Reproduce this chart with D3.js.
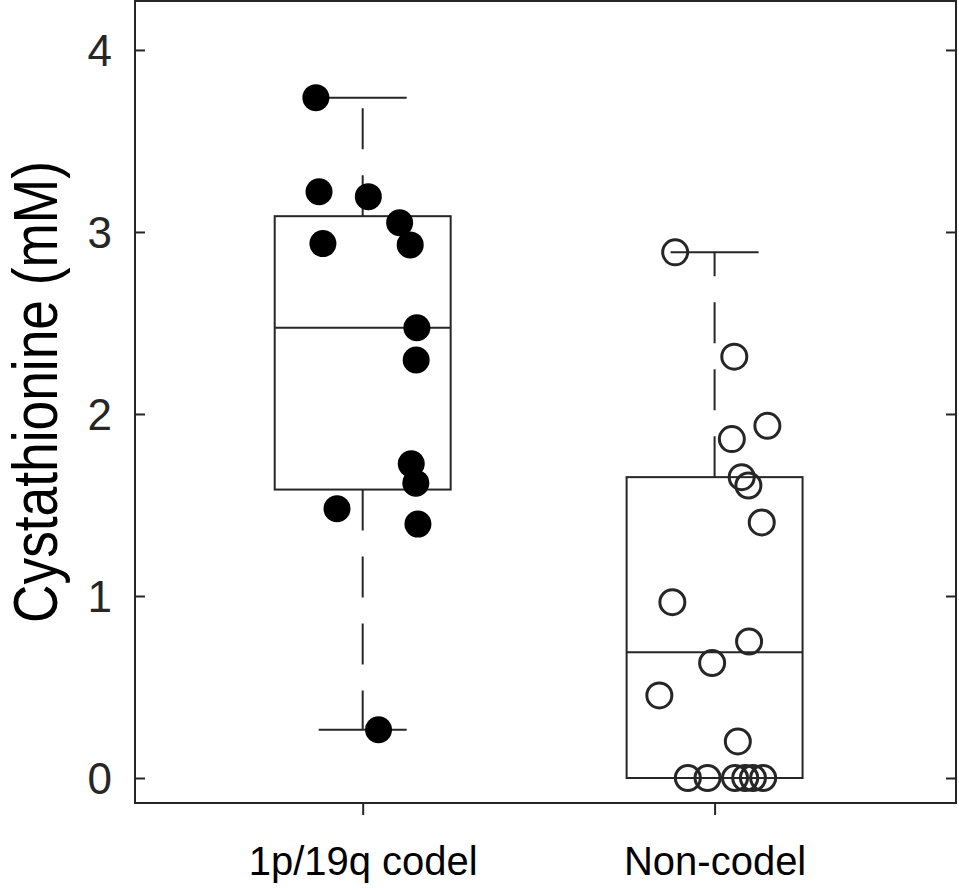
<!DOCTYPE html>
<html>
<head>
<meta charset="utf-8">
<script src="https://cdn.jsdelivr.net/npm/d3@7"></script>
<style>
  html, body { margin: 0; padding: 0; background: #fff; }
  svg { display: block; }
  text { font-family: "Liberation Sans", Arial, Helvetica, sans-serif; }
</style>
</head>
<body>
<svg id="chart" width="959" height="890"></svg>
<script>
// ---- data ----
const categories = ["1p/19q codel", "Non-codel"];
const codelValues = [3.738, 3.221, 3.194, 3.051, 2.936, 2.929, 2.474, 2.297, 1.726, 1.620, 1.479, 1.395, 0.265];
const codelJitter = [-0.133, -0.124, 0.016, 0.105, -0.113, 0.135, 0.154, 0.152, 0.138, 0.151, -0.073, 0.157, 0.045];
const noncodelValues = [2.888, 2.315, 1.935, 1.862, 1.653, 1.607, 1.404, 0.966, 0.750, 0.632, 0.454, 0.201, 0, 0, 0, 0, 0, 0];
const noncodelJitter = [-0.112, 0.056, 0.150, 0.049, 0.077, 0.096, 0.134, -0.120, 0.098, -0.007, -0.157, 0.066, -0.076, -0.020, 0.058, 0.087, 0.109, 0.138];
const yTicks = [0, 1, 2, 3, 4];
const yLabel = "Cystathionine (mM)";

const groups = [
  { name: categories[0], pos: 1, values: codelValues, jitter: codelJitter, filled: true },
  { name: categories[1], pos: 2, values: noncodelValues, jitter: noncodelJitter, filled: false }
];

// ---- layout ----
const plotL = 135, plotR = 956, plotT = 1, plotB = 803;
const ink = "#262626";

const svg = d3.select("#chart");

const x = d3.scaleLinear().domain([0.353, 2.686]).range([plotL, plotR]);
const y = d3.scaleLinear().domain([-0.1373, 4.269]).range([plotB, plotT]);

// MATLAB-style quantile (prctile)
function mQuantile(sorted, p) {
  const n = sorted.length;
  const pos = p * n + 0.5;
  if (pos <= 1) return sorted[0];
  if (pos >= n) return sorted[n - 1];
  const lo = Math.floor(pos), f = pos - lo;
  return sorted[lo - 1] + f * (sorted[lo] - sorted[lo - 1]);
}
groups.forEach(g => {
  const s = g.values.slice().sort(d3.ascending);
  g.q1 = mQuantile(s, 0.25);
  g.med = mQuantile(s, 0.5);
  g.q3 = mQuantile(s, 0.75);
  const iqr = g.q3 - g.q1;
  g.lo = d3.min(s.filter(v => v >= g.q1 - 1.5 * iqr));
  g.hi = d3.max(s.filter(v => v <= g.q3 + 1.5 * iqr));
});

const boxW = 0.5, capW = 0.25;

// ---- boxes ----
const gBox = svg.append("g").attr("fill", "none").attr("stroke", ink).attr("stroke-width", 2);
groups.forEach(g => {
  gBox.append("rect")
    .attr("x", x(g.pos - boxW / 2)).attr("width", x(g.pos + boxW / 2) - x(g.pos - boxW / 2))
    .attr("y", y(g.q3)).attr("height", y(g.q1) - y(g.q3));
  gBox.append("line")
    .attr("x1", x(g.pos - boxW / 2)).attr("x2", x(g.pos + boxW / 2))
    .attr("y1", y(g.med)).attr("y2", y(g.med));
  [[g.q3, g.hi], [g.q1, g.lo]].forEach(([from, to]) => {
    if (from !== to) {
      gBox.append("line")
        .attr("x1", x(g.pos)).attr("x2", x(g.pos))
        .attr("y1", y(from)).attr("y2", y(to))
        .attr("stroke-dasharray", "41,26");
    }
    gBox.append("line")
      .attr("x1", x(g.pos - capW / 2)).attr("x2", x(g.pos + capW / 2))
      .attr("y1", y(to)).attr("y2", y(to));
  });
});

// ---- points ----
groups.forEach(g => {
  const pts = g.values.map((v, i) => ({ v, j: g.jitter[i] }));
  svg.append("g").selectAll("circle").data(pts).join("circle")
    .attr("cx", d => x(g.pos + d.j))
    .attr("cy", d => y(d.v))
    .attr("r", g.filled ? 13.5 : 12.5)
    .attr("fill", g.filled ? "#000" : "none")
    .attr("stroke", g.filled ? "none" : ink)
    .attr("stroke-width", 3);
});

// ---- axes ----
const yAxisL = svg.append("g").attr("transform", `translate(${plotL},0)`)
  .call(d3.axisLeft(y).tickValues(yTicks).tickSizeInner(-10).tickSizeOuter(0).tickPadding(23).tickFormat(d3.format("d")));
yAxisL.select(".domain").remove();
yAxisL.selectAll(".tick line").attr("stroke", ink).attr("stroke-width", 2);
yAxisL.selectAll(".tick text").attr("fill", ink).style("font-size", "44px").attr("dy", "0.36em");

const yAxisR = svg.append("g").attr("transform", `translate(${plotR},0)`)
  .call(d3.axisRight(y).tickValues(yTicks).tickSizeInner(-10).tickSizeOuter(0).tickFormat(""));
yAxisR.select(".domain").remove();
yAxisR.selectAll(".tick line").attr("stroke", ink).attr("stroke-width", 2);

const xAxis = svg.append("g").attr("transform", `translate(0,${plotB})`)
  .call(d3.axisBottom(x).tickValues(groups.map(g => g.pos)).tickSizeInner(12).tickSizeOuter(0).tickPadding(32)
    .tickFormat(d => categories[d - 1]));
xAxis.select(".domain").remove();
xAxis.selectAll(".tick line").attr("stroke", ink).attr("stroke-width", 2);
xAxis.selectAll(".tick text").attr("fill", "#000").style("font-size", "40px");

// frame
svg.append("rect")
  .attr("x", plotL).attr("y", plotT).attr("width", plotR - plotL).attr("height", plotB - plotT)
  .attr("fill", "none").attr("stroke", ink).attr("stroke-width", 2);

// y label
svg.append("text")
  .attr("transform", `translate(57,392) rotate(-90)`)
  .attr("text-anchor", "middle")
  .attr("fill", "#000")
  .attr("textLength", 462)
  .attr("lengthAdjust", "spacingAndGlyphs")
  .style("font-size", "63px")
  .text(yLabel);
</script>
</body>
</html>
